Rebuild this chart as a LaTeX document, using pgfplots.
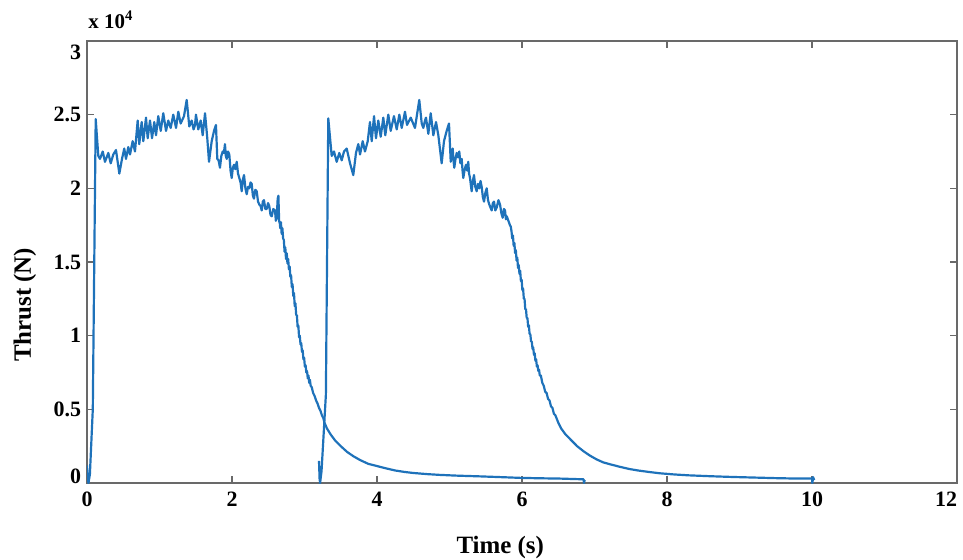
\documentclass[border=0pt]{standalone}
\usepackage{pgfplots}
\pgfplotsset{compat=1.18}
\usepackage{pgfplotstable}
\usepackage{fontspec}
\setmainfont{Liberation Serif}
\definecolor{mblue}{RGB}{30,114,186}
\definecolor{axgray}{RGB}{105,105,105}

\pgfplotstableread{
t v
0.000 0.12
0.010 0.03
0.020 0.00
0.040 0.06
0.080 0.50
0.120 2.47
0.156 2.22
0.179 2.20
0.217 2.25
0.248 2.18
0.294 2.24
0.327 2.17
0.363 2.23
0.400 2.26
0.446 2.10
0.483 2.20
0.514 2.27
0.538 2.20
0.570 2.28
0.593 2.23
0.630 2.32
0.662 2.25
0.699 2.46
0.721 2.30
0.754 2.45
0.777 2.32
0.814 2.48
0.837 2.34
0.869 2.46
0.897 2.34
0.928 2.45
0.952 2.36
0.983 2.49
1.017 2.39
1.052 2.51
1.090 2.39
1.121 2.46
1.154 2.41
1.190 2.50
1.228 2.41
1.259 2.52
1.292 2.44
1.338 2.49
1.375 2.60
1.411 2.42
1.444 2.46
1.470 2.40
1.490 2.43
1.503 2.50
1.535 2.40
1.568 2.46
1.596 2.36
1.628 2.51
1.659 2.34
1.683 2.18
1.720 2.32
1.752 2.39
1.779 2.43
1.797 2.20
1.815 2.19
1.834 2.14
1.853 2.22
1.872 2.25
1.888 2.24
1.903 2.30
1.915 2.22
1.927 2.20
1.945 2.25
1.963 2.23
1.980 2.12
1.996 2.07
2.012 2.14
2.028 2.16
2.046 2.13
2.065 2.18
2.083 2.10
2.101 2.07
2.118 2.04
2.134 1.98
2.150 2.06
2.166 2.09
2.185 2.00
2.203 1.96
2.221 2.01
2.239 2.00
2.256 2.04
2.272 2.03
2.288 1.95
2.303 1.93
2.322 1.99
2.341 1.98
2.359 1.91
2.377 1.89
2.394 1.88
2.410 1.85
2.425 1.91
2.441 1.92
2.460 1.86
2.479 1.86
2.497 1.90
2.514 1.88
2.531 1.82
2.548 1.81
2.570 1.86
2.593 1.85
2.605 1.78
2.617 1.80
2.630 1.93
2.640 1.95
2.650 1.78
2.660 1.76
2.665 1.73
2.675 1.77
2.685 1.69
2.695 1.73
2.705 1.66
2.715 1.65
2.725 1.57
2.735 1.60
2.745 1.52
2.755 1.56
2.765 1.49
2.775 1.52
2.785 1.45
2.795 1.47
2.805 1.40
2.815 1.41
2.825 1.33
2.835 1.35
2.845 1.27
2.855 1.29
2.865 1.20
2.875 1.22
2.885 1.14
2.895 1.14
2.905 1.06
2.915 1.07
2.925 0.99
2.935 1.00
2.945 0.94
2.955 0.95
2.965 0.89
2.975 0.90
2.985 0.84
2.995 0.85
3.005 0.79
3.015 0.80
3.025 0.75
3.035 0.76
3.045 0.71
3.055 0.73
3.065 0.68
3.075 0.70
3.085 0.66
3.100 0.65
3.120 0.61
3.140 0.59
3.160 0.56
3.180 0.54
3.200 0.51
3.220 0.49
3.240 0.46
3.260 0.44
3.275 0.41
3.310 0.37
3.360 0.33
3.420 0.29
3.500 0.25
3.590 0.21
3.680 0.18
3.770 0.155
3.880 0.13
4.000 0.115
4.120 0.10
4.250 0.085
4.380 0.075
4.500 0.068
4.700 0.060
4.870 0.055
5.100 0.050
5.420 0.045
5.700 0.040
5.970 0.035
6.250 0.032
6.520 0.030
6.850 0.025
6.855 0.000
6.865 0.020
}\firstrun

\pgfplotstableread{
t v
3.200 0.15
3.208 0.03
3.215 0.00
3.235 0.08
3.295 0.60
3.328 2.475
3.375 2.22
3.407 2.25
3.444 2.18
3.480 2.24
3.513 2.19
3.545 2.25
3.582 2.27
3.628 2.17
3.673 2.09
3.710 2.24
3.742 2.30
3.766 2.23
3.803 2.32
3.834 2.25
3.872 2.32
3.903 2.45
3.927 2.32
3.959 2.49
3.986 2.34
4.018 2.46
4.051 2.35
4.087 2.48
4.114 2.36
4.156 2.50
4.189 2.39
4.234 2.49
4.272 2.40
4.308 2.50
4.341 2.41
4.386 2.52
4.414 2.43
4.465 2.48
4.524 2.41
4.583 2.60
4.617 2.44
4.639 2.41
4.662 2.46
4.676 2.48
4.708 2.37
4.741 2.51
4.777 2.36
4.814 2.45
4.846 2.36
4.892 2.17
4.924 2.32
4.961 2.39
4.993 2.44
5.017 2.18
5.030 2.24
5.044 2.27
5.055 2.19
5.066 2.14
5.083 2.20
5.099 2.24
5.117 2.21
5.135 2.25
5.150 2.17
5.168 2.20
5.180 2.12
5.190 2.07
5.210 2.13
5.228 2.16
5.244 2.12
5.259 2.18
5.270 2.10
5.283 2.07
5.295 2.02
5.306 1.98
5.322 2.05
5.338 2.09
5.356 2.01
5.375 1.98
5.393 2.03
5.411 2.00
5.428 2.05
5.444 2.01
5.460 1.94
5.476 1.91
5.495 1.97
5.513 2.00
5.531 1.92
5.549 1.89
5.565 1.87
5.582 1.85
5.598 1.90
5.614 1.91
5.632 1.85
5.651 1.87
5.675 1.92
5.697 1.89
5.716 1.83
5.734 1.80
5.750 1.86
5.766 1.85
5.778 1.79
5.790 1.81
5.812 1.78
5.834 1.75
5.845 1.74
5.855 1.71
5.865 1.66
5.875 1.68
5.885 1.61
5.895 1.63
5.905 1.56
5.915 1.58
5.925 1.51
5.935 1.53
5.945 1.46
5.955 1.48
5.965 1.42
5.975 1.44
5.985 1.37
5.995 1.38
6.005 1.31
6.015 1.32
6.025 1.25
6.035 1.25
6.045 1.18
6.055 1.18
6.065 1.12
6.075 1.12
6.085 1.06
6.095 1.07
6.105 1.01
6.115 1.01
6.125 0.96
6.135 0.96
6.145 0.91
6.155 0.92
6.165 0.87
6.175 0.88
6.185 0.83
6.195 0.84
6.205 0.79
6.215 0.80
6.225 0.76
6.235 0.77
6.245 0.73
6.260 0.73
6.280 0.68
6.300 0.66
6.320 0.62
6.340 0.61
6.360 0.57
6.380 0.56
6.400 0.52
6.420 0.51
6.440 0.47
6.460 0.46
6.500 0.41
6.540 0.37
6.600 0.33
6.680 0.29
6.760 0.25
6.850 0.215
6.940 0.185
7.030 0.16
7.120 0.14
7.230 0.125
7.350 0.11
7.480 0.095
7.600 0.085
7.750 0.075
7.900 0.066
8.100 0.058
8.300 0.052
8.600 0.046
8.900 0.041
9.200 0.037
9.500 0.033
9.800 0.030
10.000 0.030
10.005 0.000
10.015 0.040
10.030 0.020
}\secondrun

\begin{document}
\begin{tikzpicture}
\begin{axis}[
  scale only axis,
  width=435bp, height=221bp,
  xmin=0, xmax=12, ymin=0, ymax=3,
  xtick={0,2,4,6,8,10,12},
  xticklabels={0,2,4,6,8,10,\makebox[0pt][r]{12}},
  ytick={0,0.5,1,1.5,2,2.5,3},
  yticklabels={\raisebox{3.5bp}[\height][\depth]{0},0.5,1,1.5,2,2.5,\raisebox{-5.5bp}[\height][\depth]{3}},
  tick align=inside,
  major tick length=3.5bp,
  axis line style={axgray, line width=0.9bp},
  every tick/.style={axgray, line width=0.7bp},
  ticklabel style={font=\bfseries\fontsize{11}{13}\selectfont, text=black},
  yticklabel style={xshift=0.5bp},
  xticklabel style={yshift=-1bp},
  xlabel={Time (s)},
  ylabel={Thrust (N)},
  every axis x label/.style={at={(axis description cs:0.475,-0.147)}, anchor=center, font=\bfseries\fontsize{12.5}{15}\selectfont},
  every axis y label/.style={at={(axis description cs:-0.0713,0.403)}, anchor=center, rotate=90, font=\bfseries\fontsize{12.5}{15}\selectfont},
]
\addplot[mblue, line width=1.1pt, line join=round] table[x=t, y=v] {\firstrun};
\addplot[mblue, line width=1.1pt, line join=round] table[x=t, y=v] {\secondrun};
\end{axis}
\node[anchor=west, inner sep=0pt, font=\bfseries\fontsize{10.5}{12}\selectfont] at ([xshift=0.5bp, yshift=10.5bp]current axis.north west) {x 10\textsuperscript{4}};
\pgfresetboundingbox
\path[use as bounding box] ([xshift=-43.5bp,yshift=-38.5bp]current axis.south west) rectangle ([xshift=3bp,yshift=20.5bp]current axis.north east);
\end{tikzpicture}
\end{document}
